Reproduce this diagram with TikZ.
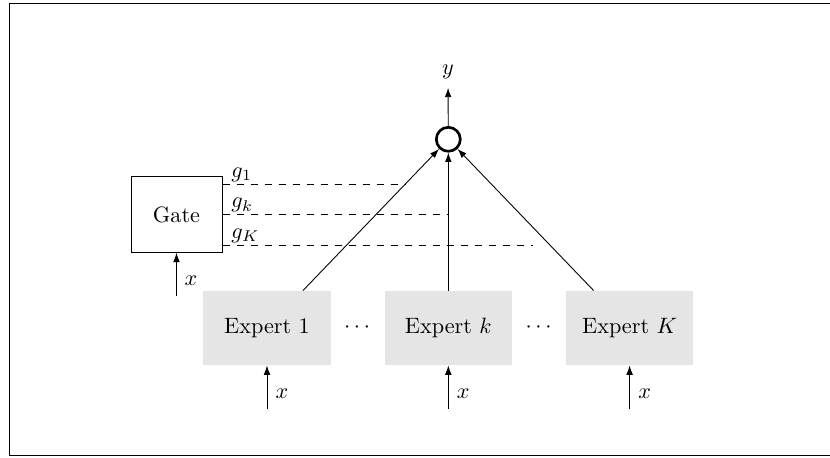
\documentclass[tikz,border=0pt]{standalone}
\usetikzlibrary{arrows.meta}
\begin{document}
\begin{tikzpicture}[x=0.45pt,y=-0.45pt,
  gatebox/.style={draw, minimum width=41pt, minimum height=34pt, inner sep=0pt},
  expertbox/.style={fill=black!10, minimum width=57.2pt, minimum height=33.3pt, inner sep=0pt},
  sumnode/.style={circle, draw, very thick, minimum size=10.8pt, inner sep=0pt},
  arr/.style={-{Latex[length=4.2pt,width=3pt]}},
  gline/.style={dash pattern=on 3.5pt off 2.8pt},
  lbl/.style={inner sep=0pt}]
\useasboundingbox (0,0) rectangle (830,457);
\draw (830,3.5) -- (9.5,3.5) -- (9.5,455.5) -- (830,455.5);

% nodes
\node[gatebox] (gate) at (176.5,214.5) {Gate};
\node[sumnode] (sum) at (448.3,139.3) {};
\node[inner sep=3.8pt] (ylab) at (448,72) {$y$};
\node[expertbox] (e1) at (267,328) {Expert 1};
\node[expertbox] (ek) at (448.3,328) {Expert $k$};
\node[expertbox] (eK) at (629.6,328) {Expert $K$};
\node[lbl, anchor=base] (d1) at (357,332.5) {$\cdots$};
\node[lbl, anchor=base] (d2) at (538.6,332.5) {$\cdots$};

% inputs
\coordinate (gin) at (176.5,296);
\coordinate (in1) at (267,409);
\coordinate (ink) at (448.3,409);
\coordinate (inK) at (629.6,409);
\draw[arr] (gin) -- (gate);
\draw[arr] (in1) -- (e1);
\draw[arr] (ink) -- (ek);
\draw[arr] (inK) -- (eK);
\node[lbl] (xg) at (191,281) {$x$};
\node[lbl] (x1) at (282,394) {$x$};
\node[lbl] (xk) at (463.3,394) {$x$};
\node[lbl] (xK) at (644.6,394) {$x$};

% experts to combiner
\draw[arr] (e1) -- (sum);
\draw[arr] (ek) -- (sum);
\draw[arr] (eK) -- (sum);
\draw[arr] (sum) -- (ylab);

% gate outputs
\coordinate (g1e) at (405,184);
\coordinate (gke) at (448.3,214.3);
\coordinate (gKe) at (533,245);
\draw[gline] (gate.east |- g1e) -- (g1e);
\draw[gline] (gate.east |- gke) -- (gke);
\draw[gline] (gate.east |- gKe) -- (gKe);
\node[lbl, anchor=base west] (g1lab) at (231,177.5) {$g_1$};
\node[lbl, anchor=base west] (gklab) at (231,207.8) {$g_k$};
\node[lbl, anchor=base west] (gKlab) at (231,238.5) {$g_K$};
\end{tikzpicture}
\end{document}
